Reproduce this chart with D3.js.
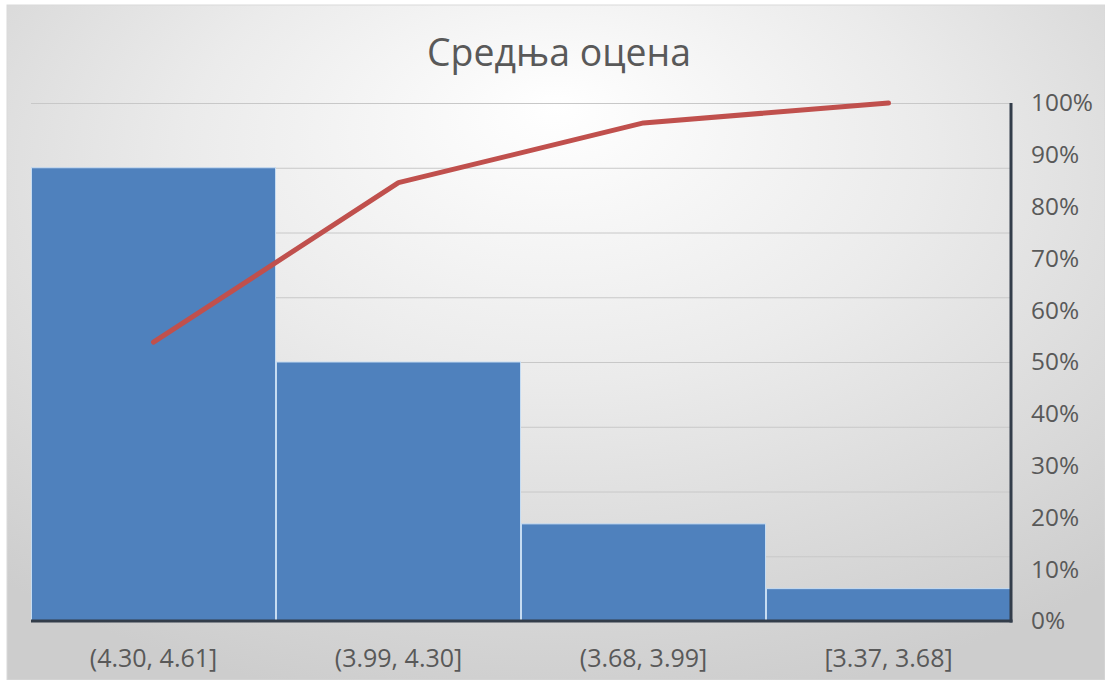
<!DOCTYPE html>
<html>
<head>
<meta charset="utf-8">
<script src="https://cdn.jsdelivr.net/npm/d3@7"></script>
<style>
  html, body { margin: 0; padding: 0; background: #ffffff; }
  svg { display: block; }
  text { font-family: "Open Sans", Lato, sans-serif; fill: #595959; }
</style>
</head>
<body>
<svg id="chart" width="1105" height="680"></svg>
<script>
// Grade-average bins, frequency per bin and cumulative share
const categories = ["(4.30, 4.61]", "(3.99, 4.30]", "(3.68, 3.99]", "[3.37, 3.68]"];
const counts = [14, 8, 3, 1];
const countTicks = [0, 2, 4, 6, 8, 10, 12, 14, 16];
const percentTicks = [0, 0.1, 0.2, 0.3, 0.4, 0.5, 0.6, 0.7, 0.8, 0.9, 1.0];
const title = "Средња оцена";

const total = d3.sum(counts);
const cumulative = d3.cumsum(counts).map(v => v / total);

const W = 1105, H = 680;
const plot = { left: 31, right: 1011, top: 103, bottom: 621 };

const svg = d3.select("#chart");

// Chart-area background: soft radial gradient
const defs = svg.append("defs");
const grad = defs.append("radialGradient")
  .attr("id", "bg")
  .attr("cx", "50%").attr("cy", "30%").attr("r", "75%")
  .attr("fx", "50%").attr("fy", "15%");
grad.append("stop").attr("offset", "0%").attr("stop-color", "#ffffff");
grad.append("stop").attr("offset", "45%").attr("stop-color", "#ebebeb");
grad.append("stop").attr("offset", "100%").attr("stop-color", "#cdcdcd");

svg.append("rect")
  .attr("x", 7).attr("y", 5)
  .attr("width", W - 7).attr("height", H - 5)
  .attr("fill", "url(#bg)")
  .attr("stroke", "#d9d9d9");

const x = d3.scaleBand()
  .domain(categories)
  .range([plot.left, plot.right])
  .paddingInner(0).paddingOuter(0);

const yCount = d3.scaleLinear()
  .domain([0, d3.max(countTicks)])
  .range([plot.bottom, plot.top]);

const yPct = d3.scaleLinear()
  .domain([0, 1])
  .range([plot.bottom, plot.top]);

// Horizontal gridlines from the (hidden) count axis
svg.append("g")
  .attr("transform", `translate(${plot.left},0)`)
  .call(d3.axisLeft(yCount).tickValues(countTicks.slice(1))
    .tickSize(-(plot.right - plot.left)).tickFormat(""))
  .call(g => g.select(".domain").remove())
  .call(g => g.selectAll(".tick line").attr("stroke", "#c8c8c8").attr("stroke-width", 1));

// Frequency bars
svg.append("g")
  .selectAll("rect")
  .data(counts)
  .join("rect")
  .attr("x", (d, i) => x(categories[i]) + 0.5)
  .attr("width", x.bandwidth() - 1)
  .attr("y", d => yCount(d))
  .attr("height", d => yCount(0) - yCount(d))
  .attr("fill", "#4f81bd")
  .attr("stroke", "#c6dcf2")
  .attr("stroke-width", 1);

// Category axis
const xAxis = svg.append("g")
  .attr("transform", `translate(0,${plot.bottom})`)
  .call(d3.axisBottom(x).tickSize(0).tickPadding(37));
xAxis.select(".domain").attr("stroke", "#333d4a").attr("stroke-width", 3)
  .attr("d", `M${plot.left},0H${plot.right + 1.5}`);
xAxis.selectAll("text")
  .attr("dy", "0.35em")
  .style("font-size", "25px")
  .style("fill", "#595959");

// Cumulative percentage axis on the right
const pAxis = svg.append("g")
  .attr("transform", `translate(${plot.right},0)`)
  .call(d3.axisRight(yPct).tickValues(percentTicks)
    .tickFormat(d3.format(".0%")).tickSize(0).tickPadding(20));
pAxis.select(".domain").attr("stroke", "#333d4a").attr("stroke-width", 3)
  .attr("d", `M0,${plot.top}V${plot.bottom + 1.5}`);
pAxis.selectAll("text")
  .attr("text-anchor", "start")
  .style("font-size", "24.4px")
  .style("fill", "#595959");

// Cumulative line
const line = d3.line()
  .x((d, i) => x(categories[i]) + x.bandwidth() / 2)
  .y(d => yPct(d));
svg.append("path")
  .datum(cumulative)
  .attr("d", line)
  .attr("fill", "none")
  .attr("stroke", "#c0504d")
  .attr("stroke-width", 5)
  .attr("stroke-linejoin", "round")
  .attr("stroke-linecap", "round");

// Title
svg.append("text")
  .attr("x", 559).attr("y", 66)
  .attr("text-anchor", "middle")
  .style("font-size", "37.4px")
  .style("fill", "#595959")
  .text(title);
</script>
</body>
</html>
